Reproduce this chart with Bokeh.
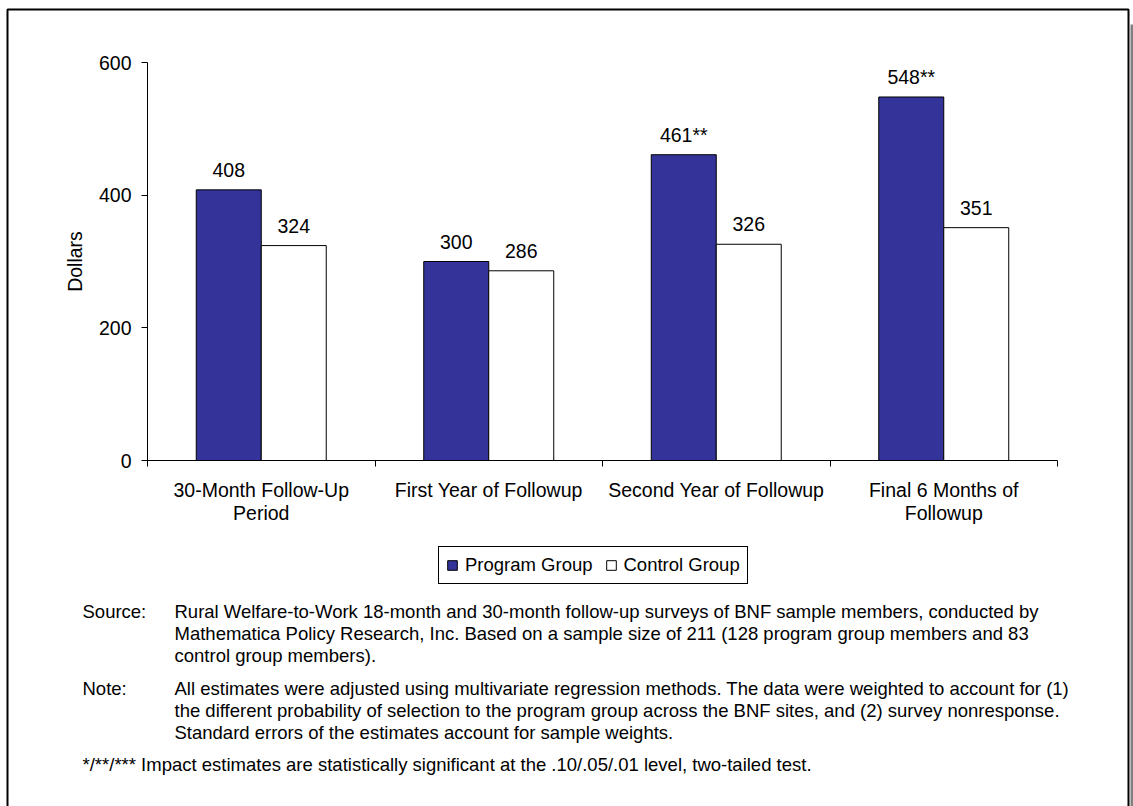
from bokeh.plotting import figure
from bokeh.models import (ColumnDataSource, Range1d, FixedTicker, Legend, LegendItem,
                          Label, BoxAnnotation)
from bokeh.embed import file_html
from bokeh.resources import INLINE
from bokeh.core.properties import value

# ---------------- data ----------------
categories = ["30-Month Follow-Up\nPeriod", "First Year of Followup",
              "Second Year of Followup", "Final 6 Months of\nFollowup"]
program = [408, 300, 461, 548]
control = [324, 286, 326, 351]
program_labels = ["408", "300", "461**", "548**"]
control_labels = ["324", "286", "326", "351"]
y_ticks = [0, 200, 400, 600]
y_max = 600
series_names = ["Program Group", "Control Group"]
y_title = "Dollars"

source_head = "Source:"
source_lines = [
    "Rural Welfare-to-Work 18-month and 30-month follow-up surveys of BNF sample members, conducted by",
    "Mathematica Policy Research, Inc. Based on a sample size of 211 (128 program group members and 83",
    "control group members).",
]
note_head = "Note:"
note_lines = [
    "All estimates were adjusted using multivariate regression methods.  The data were weighted to account for (1)",
    "the different probability of selection to the program group across the BNF sites, and (2) survey nonresponse.",
    "Standard errors of the estimates account for sample weights.",
]
significance_note = "*/**/*** Impact estimates are statistically significant at the .10/.05/.01 level, two-tailed test."

# ---------------- layout / style ----------------
W, H = 1133, 806
AX_L, AX_R = 147, 1057        # pixel extent of the x axis
AX_ZERO, AX_TOP = 460, 62     # pixel rows of y=0 and y=y_max
FONT = "Liberation Sans"
FS = "19.5px"
FS_LEG = "18.5px"
FS_NOTE = "18.5px"
BAR_W = 0.2857
PROGRAM_COLOR = "#333399"

n = len(categories)
px_per_x = (AX_R - AX_L) / n
px_per_y = (AX_ZERO - AX_TOP) / y_max
x_range = Range1d(-AX_L / px_per_x, (W - AX_L) / px_per_x)
y_range = Range1d(-(H - AX_ZERO) / px_per_y, AX_ZERO / px_per_y)

centers = [i + 0.5 for i in range(n)]
src_p = ColumnDataSource(dict(x=[c - BAR_W / 2 for c in centers], top=program, label=program_labels))
src_c = ColumnDataSource(dict(x=[c + BAR_W / 2 for c in centers], top=control, label=control_labels))

p = figure(width=W, height=H, x_range=x_range, y_range=y_range,
           output_backend="svg", toolbar_location=None,
           min_border=0, min_border_left=0, min_border_right=0,
           min_border_top=0, min_border_bottom=0)
p.background_fill_color = "white"
p.border_fill_color = "white"
p.outline_line_color = None
p.xgrid.visible = False
p.ygrid.visible = False

r_p = p.vbar(x="x", top="top", bottom=0, width=BAR_W, source=src_p,
             fill_color=PROGRAM_COLOR, line_color="black", line_width=1)
r_c = p.vbar(x="x", top="top", bottom=0, width=BAR_W, source=src_c,
             fill_color="white", line_color="black", line_width=1)

for s in (src_p, src_c):
    p.text(x="x", y="top", text="label", source=s, text_align="center",
           text_baseline="alphabetic", y_offset=-20,
           text_font=value(FONT), text_font_size=FS, text_color="black")

# x axis (drawn at y = 0)
xa = p.xaxis[0]
xa.fixed_location = 0
xa.bounds = (0, n)
xa.ticker = FixedTicker(ticks=centers, minor_ticks=list(range(n + 1)))
xa.major_label_overrides = {c: cat for c, cat in zip(centers, categories)}
xa.major_tick_out = 0
xa.major_tick_in = 0
xa.minor_tick_out = 6
xa.minor_tick_in = 0
xa.minor_tick_line_color = "black"
xa.axis_line_color = "black"
xa.major_label_text_font = FONT
xa.major_label_text_font_size = FS
xa.major_label_text_color = "black"
xa.major_label_standoff = 12
xa.major_label_text_line_height = 1.05

# y axis (drawn at x = 0)
ya = p.yaxis[0]
ya.fixed_location = 0
ya.bounds = (0, y_max)
ya.ticker = FixedTicker(ticks=y_ticks, minor_ticks=[])
ya.major_tick_out = 6
ya.major_tick_in = 0
ya.minor_tick_out = 0
ya.minor_tick_in = 0
ya.major_tick_line_color = "black"
ya.axis_line_color = "black"
ya.major_label_text_font = FONT
ya.major_label_text_font_size = FS
ya.major_label_text_color = "black"
ya.major_label_standoff = 10
ya.axis_label = y_title
ya.axis_label_text_font = FONT
ya.axis_label_text_font_size = FS
ya.axis_label_text_font_style = "normal"
ya.axis_label_text_color = "black"
ya.axis_label_standoff = 10

legend = Legend(items=[LegendItem(label=series_names[0], renderers=[r_p]),
                       LegendItem(label=series_names[1], renderers=[r_c])],
                location=(438, H - 584), orientation="horizontal",
                glyph_width=12, glyph_height=12, label_standoff=7, spacing=12,
                padding=7, margin=0, border_line_color="black", border_line_width=1,
                border_line_alpha=1.0,
                label_text_font=FONT, label_text_font_size=FS_LEG, label_text_color="black",
                background_fill_color="white", background_fill_alpha=1.0)
p.add_layout(legend)

def note(x, baseline, txt):
    p.add_layout(Label(x=x, y=H - baseline, x_units="screen", y_units="screen", text=txt,
                       text_font=FONT, text_font_size=FS_NOTE, text_color="black",
                       text_baseline="alphabetic", text_align="left"))

HEAD_X, BODY_X = 82, 174
LINE = 22
note(HEAD_X, 611, source_head)
for i, line in enumerate(source_lines):
    note(BODY_X, 611 + LINE * i, line)
note(HEAD_X, 687.5, note_head)
for i, line in enumerate(note_lines):
    note(BODY_X, 687.5 + LINE * i, line)
note(HEAD_X, 764, significance_note)

# page frame with a drop shadow on the right
p.add_layout(BoxAnnotation(left=1130, right=1134, top=H - 24, bottom=-20,
                           left_units="screen", right_units="screen",
                           top_units="screen", bottom_units="screen",
                           fill_color="#808080", fill_alpha=1.0, line_color=None))
p.add_layout(BoxAnnotation(left=7, right=1128, top=H - 9, bottom=-20,
                           left_units="screen", right_units="screen",
                           top_units="screen", bottom_units="screen",
                           fill_color=None, fill_alpha=0, line_color="black",
                           line_alpha=1.0, line_width=2))

open("out.html", "w").write(file_html(p, INLINE))
